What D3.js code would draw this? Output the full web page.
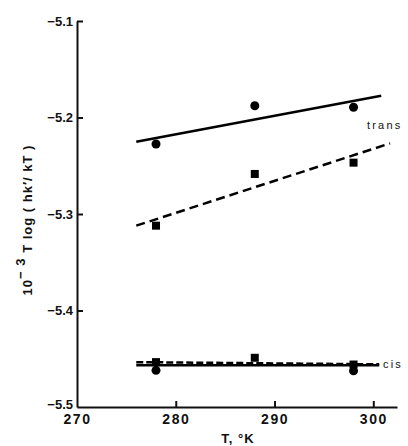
<!DOCTYPE html>
<html><head><meta charset="utf-8">
<script src="https://cdn.jsdelivr.net/npm/d3@7"></script>
<style>
body{margin:0;background:#fff;}
svg{display:block;font-family:"Liberation Sans",Arial,sans-serif;}
</style></head><body>
<svg id="c" width="408" height="446"></svg>
<script>
const temps = [278, 288, 298];
const transCircles = [-5.2275, -5.1878, -5.1894];
const transSquares = [-5.3121, -5.2585, -5.2468];
const cisSquares = [-5.4535, -5.4490, -5.4560];
const cisCircleTemps = [278, 298];
const cisCircles = [-5.4620, -5.4625];
const transSolidFit = [[276, -5.2251], [300.8, -5.1774]];
const transDashedFit = [[276, -5.3121], [301.7, -5.2268]];
const cisSolidFit = [[276, -5.4568], [300.6, -5.4568]];
const cisDashedFit = [[276, -5.4535], [300.6, -5.4558]];
const xTicks = [270, 280, 290, 300];
const yTicks = [-5.1, -5.2, -5.3, -5.4, -5.5];
const seriesLabels = ["trans", "cis"];

const svg = d3.select("#c");
const x = d3.scaleLinear().domain([270, 302.4]).range([77, 397]);
const y = d3.scaleLinear().domain([-5.5, -5.1]).range([407, 21]);

// axes
const ya = svg.append("g").attr("transform", "translate(77,0)")
  .call(d3.axisLeft(y).tickValues(yTicks).tickFormat(d => d3.format(".1f")(d).replace("-", "\u2212"))
    .tickSizeInner(-6).tickSizeOuter(0).tickPadding(4));
const xa = svg.append("g").attr("transform", "translate(0,407)")
  .call(d3.axisBottom(x).tickValues(xTicks).tickFormat(d3.format("d"))
    .tickSizeInner(-6).tickSizeOuter(0).tickPadding(7));
[ya, xa].forEach(g => {
  g.selectAll("path,line").attr("stroke", "#111").attr("stroke-width", 2);
  g.selectAll("text").attr("fill", "#111").attr("font-size", 13).attr("font-weight", "bold")
    .attr("font-family", "'Liberation Sans',Arial,sans-serif");
});
xa.selectAll("text").attr("letter-spacing", 1.5).attr("font-size", 14);
xa.selectAll(".tick").filter(d => d === 270).select("line").remove();
ya.selectAll(".tick").filter(d => d === -5.5).select("line").remove();
ya.selectAll(".tick").filter(d => d === -5.5).select("text").attr("dy", "0.1em");

// axis titles
svg.append("text").attr("x", 238).attr("y", 443).attr("text-anchor", "middle")
  .attr("font-size", 13).attr("font-weight", "bold").attr("letter-spacing", 1).attr("fill", "#111")
  .text("T, \u00B0K");
const yl = svg.append("text").attr("transform", "translate(32,220) rotate(-90)")
  .attr("text-anchor", "middle").attr("font-size", 13).attr("font-weight", "bold")
  .attr("letter-spacing", 1).attr("fill", "#111");
yl.append("tspan").text("10");
yl.append("tspan").attr("dy", -7).attr("font-size", 13).text("\u2212 3");
yl.append("tspan").attr("dy", 7).text(" T log ( hk\u2032/ kT )");

// fit lines
const line = d3.line().x(d => x(d[0])).y(d => y(d[1]));
svg.append("path").attr("d", line(transSolidFit)).attr("stroke", "#000").attr("stroke-width", 2.5).attr("fill", "none");
svg.append("path").attr("d", line(transDashedFit)).attr("stroke", "#000").attr("stroke-width", 2.5).attr("fill", "none").attr("stroke-dasharray", "9,5");
svg.append("path").attr("d", line(cisSolidFit)).attr("stroke", "#000").attr("stroke-width", 2.5).attr("fill", "none");
svg.append("path").attr("d", line(cisDashedFit)).attr("stroke", "#000").attr("stroke-width", 2.5).attr("fill", "none").attr("stroke-dasharray", "7,3");

// points
const circ = (ts, vs) => svg.append("g").selectAll("circle").data(ts).join("circle")
  .attr("cx", d => x(d)).attr("cy", (d, i) => y(vs[i])).attr("r", 4.5).attr("fill", "#000");
const sq = (ts, vs) => svg.append("g").selectAll("rect").data(ts).join("rect")
  .attr("x", d => x(d) - 4).attr("y", (d, i) => y(vs[i]) - 4).attr("width", 8).attr("height", 8).attr("fill", "#000");
circ(temps, transCircles);
sq(temps, transSquares);
sq(temps, cisSquares);
circ(cisCircleTemps, cisCircles);

// labels
svg.append("text").attr("x", 367).attr("y", 129).attr("font-size", 11).attr("letter-spacing", 2.2)
  .attr("fill", "#111").text(seriesLabels[0]);
svg.append("text").attr("x", 383).attr("y", 368).attr("font-size", 11).attr("letter-spacing", 2.2)
  .attr("fill", "#111").text(seriesLabels[1]);
</script></body></html>
